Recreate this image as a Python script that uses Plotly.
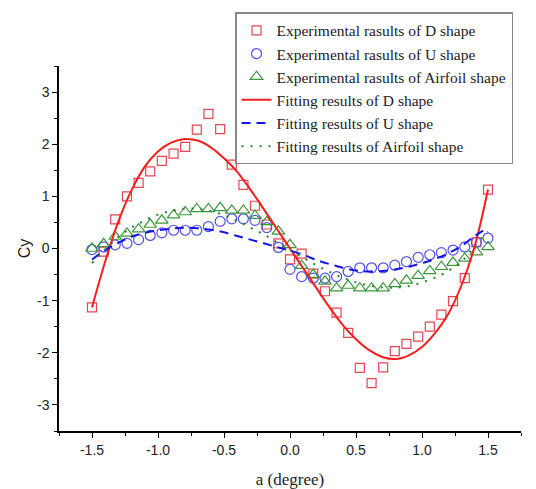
import plotly.graph_objects as go

# Angle of attack for the measured points (degree)
a_exp = [-1.5, -1.412, -1.324, -1.235, -1.147, -1.059, -0.971, -0.882, -0.794,
         -0.706, -0.618, -0.529, -0.441, -0.353, -0.265, -0.176, -0.088, 0.0,
         0.088, 0.176, 0.265, 0.353, 0.441, 0.529, 0.618, 0.706, 0.794, 0.882,
         0.971, 1.059, 1.147, 1.235, 1.324, 1.412, 1.5]

# Measured lift coefficient Cy for each section shape
cy_d_exp = [-1.13, -0.06, 0.56, 1.00, 1.26, 1.48, 1.68, 1.82, 1.95, 2.28, 2.58,
            2.29, 1.61, 1.22, 0.82, 0.46, 0.10, -0.21, -0.10, -0.48, -0.82,
            -1.23, -1.62, -2.29, -2.58, -2.28, -1.97, -1.83, -1.69, -1.50,
            -1.27, -1.01, -0.57, 0.12, 1.13]
cy_u_exp = [-0.02, 0.03, 0.07, 0.10, 0.17, 0.25, 0.30, 0.35, 0.35, 0.35, 0.42,
            0.52, 0.57, 0.57, 0.54, 0.40, 0.02, -0.40, -0.54, -0.57, -0.57,
            -0.54, -0.44, -0.37, -0.37, -0.37, -0.32, -0.25, -0.17, -0.12,
            -0.08, -0.03, 0.03, 0.12, 0.20]
cy_air_exp = [0.0, 0.09, 0.23, 0.29, 0.37, 0.46, 0.54, 0.64, 0.70, 0.76, 0.76,
              0.78, 0.73, 0.73, 0.63, 0.51, 0.33, 0.07, -0.33, -0.50, -0.63,
              -0.76, -0.71, -0.76, -0.76, -0.76, -0.68, -0.61, -0.52, -0.43,
              -0.35, -0.27, -0.19, -0.07, 0.03]

# Fitted curves, sampled every 0.1 degree
a_fit = [-1.5, -1.4, -1.3, -1.2, -1.1, -1.0, -0.9, -0.8, -0.7, -0.6, -0.5,
         -0.4, -0.3, -0.2, -0.1, 0.0, 0.1, 0.2, 0.3, 0.4, 0.5, 0.6, 0.7, 0.8,
         0.9, 1.0, 1.1, 1.2, 1.3, 1.4, 1.5]
cy_d_fit = [-1.13, -0.25, 0.52, 1.12, 1.57, 1.86, 2.03, 2.10, 2.07, 1.94, 1.73,
            1.47, 1.13, 0.76, 0.38, 0.0, -0.38, -0.76, -1.13, -1.47, -1.74,
            -1.95, -2.08, -2.12, -2.05, -1.89, -1.62, -1.25, -0.70, 0.05, 1.13]
cy_u_fit = [-0.21, -0.03, 0.11, 0.23, 0.30, 0.35, 0.38, 0.40, 0.39, 0.36, 0.31,
            0.24, 0.17, 0.10, 0.03, -0.04, -0.12, -0.22, -0.30, -0.37, -0.42,
            -0.44, -0.43, -0.40, -0.35, -0.28, -0.20, -0.09, 0.05, 0.24, 0.40]
cy_air_fit = [-0.28, -0.02, 0.22, 0.40, 0.54, 0.65, 0.72, 0.76, 0.76, 0.72, 0.64,
              0.53, 0.40, 0.27, 0.12, -0.03, -0.18, -0.32, -0.45, -0.56, -0.65,
              -0.71, -0.75, -0.75, -0.72, -0.65, -0.56, -0.43, -0.25, 0.05, 0.32]

x_ticks = [-1.5, -1.0, -0.5, 0.0, 0.5, 1.0, 1.5]
x_tick_text = ["-1.5", "-1.0", "-0.5", "0.0", "0.5", "1.0", "1.5"]
y_ticks = [-3, -2, -1, 0, 1, 2, 3]
y_tick_text = ["-3", "-2", "-1", "0", "1", "2", "3"]

RED = "rgb(230,70,80)"
BLUE = "rgb(80,80,235)"
GREEN = "rgb(60,150,60)"

fig = go.Figure()

fig.add_trace(go.Scatter(
    x=a_exp, y=cy_d_exp, mode="markers", name="Experimental rasults of D shape",
    marker=dict(symbol="square-open", size=9, color=RED, line=dict(width=1.2))))
fig.add_trace(go.Scatter(
    x=a_exp, y=cy_u_exp, mode="markers", name="Experimental rasults of U shape",
    marker=dict(symbol="circle-open", size=10, color=BLUE, line=dict(width=1.2))))
fig.add_trace(go.Scatter(
    x=a_exp, y=cy_air_exp, mode="markers", name="Experimental rasults of Airfoil shape",
    marker=dict(symbol="triangle-up-open", size=11, color=GREEN, line=dict(width=1.2))))

fig.add_trace(go.Scatter(
    x=a_fit, y=cy_d_fit, mode="lines", name="Fitting results of D shape",
    line=dict(color="rgb(245,30,30)", width=2, shape="spline")))
fig.add_trace(go.Scatter(
    x=a_fit, y=cy_u_fit, mode="lines", name="Fitting results of U shape",
    line=dict(color="rgb(20,20,230)", width=2, dash="9px,6px", shape="spline")))
fig.add_trace(go.Scatter(
    x=a_fit, y=cy_air_fit, mode="lines", name="Fitting results of Airfoil shape",
    line=dict(color="rgb(40,130,40)", width=2, dash="2px,7px", shape="spline")))

axis_common = dict(
    showline=True, linecolor="black", linewidth=1.5,
    ticks="outside", ticklen=5, tickwidth=1.2, tickcolor="black",
    showgrid=False, zeroline=False, mirror=False, automargin=False,
    tickfont=dict(family="Liberation Sans, Arial, sans-serif", size=14, color="#222"),
)

fig.update_layout(
    width=536, height=489,
    margin=dict(l=59, r=15, t=60, b=58),
    paper_bgcolor="white", plot_bgcolor="white",
    showlegend=True,
    legend=dict(
        x=0.381, y=1.147, xanchor="left", yanchor="top",
        bgcolor="white", bordercolor="#888", borderwidth=1.5,
        font=dict(family="Liberation Serif, Times New Roman, serif", size=15.5, color="#222"),
        tracegroupgap=0, itemwidth=30,
    ),
    xaxis=dict(
        range=[-1.75, 1.75], tickvals=x_ticks, ticktext=x_tick_text,
        minor=dict(ticks="outside", ticklen=3, tickwidth=1.2, tickcolor="black", dtick=0.25,
                   tick0=0, showgrid=False),
        title=dict(text="a (degree)", standoff=17,
                   font=dict(family="Liberation Serif, Times New Roman, serif", size=17, color="#222")),
        **axis_common,
    ),
    yaxis=dict(
        range=[-3.5, 3.5], tickvals=y_ticks, ticktext=y_tick_text,
        minor=dict(ticks="outside", ticklen=3, tickwidth=1.2, tickcolor="black", dtick=0.5,
                   tick0=0, showgrid=False),
        title=dict(text="Cy", standoff=2,
                   font=dict(family="Liberation Sans, Arial, sans-serif", size=16, color="#222")),
        **axis_common,
    ),
)

fig.write_html("out.html")
